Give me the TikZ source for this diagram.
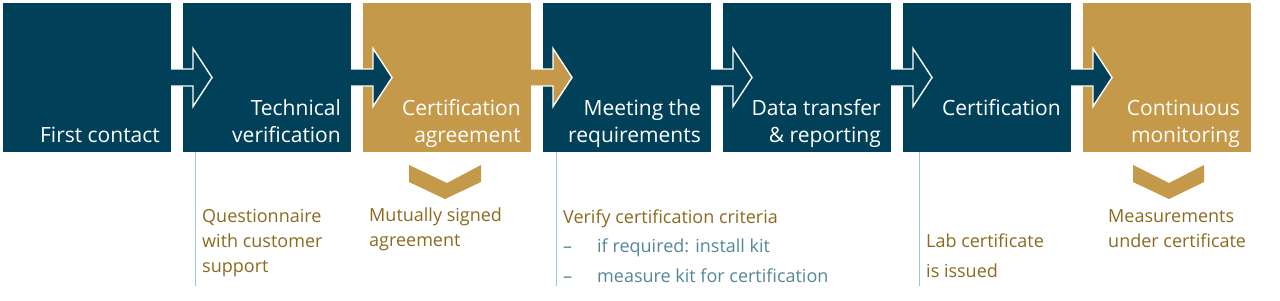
\documentclass[tikz,border=0pt]{standalone}
\usepackage{fontspec}
\setmainfont{Open Sans}
\usetikzlibrary{positioning, calc}

\definecolor{petrol}{RGB}{0,65,89}
\definecolor{ochre}{RGB}{196,153,74}
\definecolor{ochretext}{RGB}{139,106,32}
\definecolor{itemblue}{RGB}{84,134,154}
\definecolor{guideblue}{RGB}{160,198,214}

\begin{document}
\begin{tikzpicture}[x=1pt, y=-1pt,
    stage/.style={rectangle, minimum width=168pt, minimum height=149pt, inner sep=0pt, outer sep=0pt},
    petrolbox/.style={stage, fill=petrol},
    ochrebox/.style={stage, fill=ochre},
    stagelabel/.style={anchor=base east, align=right, inner sep=0pt, text=white, font=\fontsize{21}{27}\selectfont},
    note/.style={anchor=base west, align=left, inner sep=0pt, text=ochretext, font=\fontsize{18}{25}\selectfont},
    guide/.style={draw=guideblue, line width=1pt},
    flow/.style={draw=white, line width=1.4pt, to path={
        ($(\tikztostart)+(0,-8.5)$) -- ($(\tikztostart)+(22,-8.5)$) -- ($(\tikztostart)+(22,-29)$)
        -- ($(\tikztotarget)+(29,0)$)
        -- ($(\tikztostart)+(22,29)$) -- ($(\tikztostart)+(22,8.5)$) -- ($(\tikztostart)+(0,8.5)$)}}
]
\useasboundingbox (0,0) rectangle (1280,300);

% Stages
\node[petrolbox] (b1) at (87,77.5) {};
\node[petrolbox, right=12pt of b1] (b2) {};
\node[ochrebox, right=12pt of b2] (b3) {};
\node[petrolbox, right=12pt of b3] (b4) {};
\node[petrolbox, right=12pt of b4] (b5) {};
\node[petrolbox, right=12pt of b5] (b6) {};
\node[ochrebox, right=12pt of b6] (b7) {};

% Stage labels (base = last line)
\node[stagelabel] (l1) at ($(b1.south east)+(-11,-10)$) {First contact};
\node[stagelabel] (l2) at ($(b2.south east)+(-10,-10)$) {Technical\\verification};
\node[stagelabel] (l3) at ($(b3.south east)+(-10,-10)$) {Certification\\agreement};
\node[stagelabel] (l4) at ($(b4.south east)+(-10,-10)$) {Meeting the\\requirements};
\node[stagelabel] (l5) at ($(b5.south east)+(-10,-10)$) {Data transfer\\\& reporting};
\node[stagelabel] (l6) at ($(b6.south east)+(-10,-37)$) {Certification};
\node[stagelabel] (l7) at ($(b7.south east)+(-11,-10)$) {Continuous\\monitoring};

% Flow arrows
\path[flow, fill=petrol] (b1.east) to (b2.west);
\path[flow, fill=petrol] (b2.east) to (b3.west);
\path[flow, fill=ochre] (b3.east) to (b4.west);
\path[flow, fill=petrol] (b4.east) to (b5.west);
\path[flow, fill=petrol] (b5.east) to (b6.west);
\path[flow, fill=petrol] (b6.east) to (b7.west);

% Chevrons
\fill[ochre, shift={(b3.south)}] (-38,13) -- (0,31) -- (34,13) -- (34,30) -- (-2,47) -- (-38,30) -- cycle;
\fill[ochre, shift={(b7.south)}] (-34,13) -- (2,31) -- (37,13) -- (37,30) -- (2,47) -- (-34,30) -- cycle;

% Notes
\node[note] (n2) at (202,272) {Questionnaire\\with customer\\support};
\node[note] (n3) at (369,246) {Mutually signed\\agreement};
\node[note] (n4) at (563,223) {Verify certification criteria};
\node[note, text=itemblue, font=\fontsize{18}{29.5}\selectfont] (n4items) at (563,282)
    {\makebox[34pt][l]{–}if required: install kit\\\makebox[34pt][l]{–}measure kit for certification};
\node[note, font=\fontsize{18}{30}\selectfont] (n6) at (926,277) {Lab certificate\\is issued};
\node[note] (n7) at (1108,247) {Measurements\\under certificate};

% Guide lines
\coordinate (floor) at (0,286);
\draw[guide] ($(n2.west |- b2.south)+(-7,0)$) -- ($(n2.west |- floor)+(-7,0)$);
\draw[guide] ($(n4.west |- b4.south)+(-7,0)$) -- ($(n4.west |- floor)+(-7,0)$);
\draw[guide] ($(n6.west |- b6.south)+(-7,0)$) -- ($(n6.west |- floor)+(-7,0)$);

\end{tikzpicture}
\end{document}
